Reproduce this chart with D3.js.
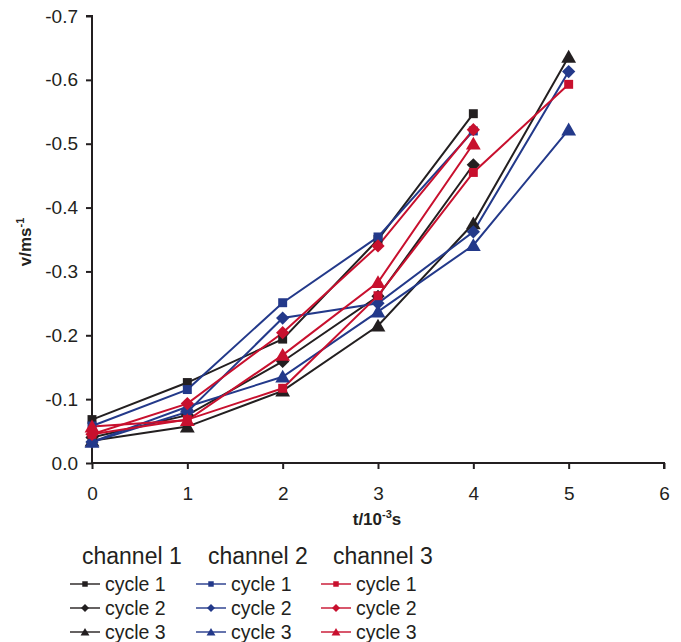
<!DOCTYPE html>
<html><head><meta charset="utf-8">
<script src="https://cdn.jsdelivr.net/npm/d3@7"></script>
<style>body{margin:0;background:#fff;} text{font-family:"Liberation Sans",Arial,sans-serif;}</style>
</head><body>
<svg id="c" width="681" height="642"></svg>
<script>
const xTicks = [0,1,2,3,4,5,6];
const yTicks = [0,-0.1,-0.2,-0.3,-0.4,-0.5,-0.6,-0.7];
const channels = ["channel 1","channel 2","channel 3"];
const cycles = ["cycle 1","cycle 2","cycle 3"];
const channelColors = ["#231f20","#23398a","#c8102e"];
const cycleShapes = ["square","diamond","triangle"];
// values (v in m/s) per time step t = 0,1,2,...
const ch1c1 = [-0.068,-0.126,-0.194,-0.350,-0.547];
const ch1c2 = [-0.040,-0.075,-0.159,-0.261,-0.467];
const ch1c3 = [-0.035,-0.057,-0.113,-0.215,-0.375,-0.636];
const ch2c1 = [-0.058,-0.115,-0.251,-0.354,-0.520];
const ch2c2 = [-0.033,-0.080,-0.227,-0.250,-0.362,-0.613];
const ch2c3 = [-0.033,-0.088,-0.135,-0.237,-0.341,-0.522];
const ch3c1 = [-0.045,-0.068,-0.117,-0.262,-0.455,-0.593];
const ch3c2 = [-0.045,-0.093,-0.204,-0.340,-0.522];
const ch3c3 = [-0.057,-0.067,-0.169,-0.283,-0.500];

const seriesValues = [[ch1c1,ch1c2,ch1c3],[ch2c1,ch2c2,ch2c3],[ch3c1,ch3c2,ch3c3]];

const svg = d3.select("#c");
const L=92,R=664,T=16,B=463;
const x = d3.scaleLinear().domain([0,6]).range([L,R]);
const y = d3.scaleLinear().domain([0,-0.7]).range([B,T]);

const symType = {square:d3.symbolSquare, diamond:d3.symbolSquare, triangle:d3.symbolTriangle};
const symRot = {square:0, diamond:45, triangle:0};
const symDy = {square:0, diamond:0, triangle:1.5};
const symSize = {square:80, diamond:88, triangle:95};
const legSize = {square:30, diamond:32, triangle:34};

// axes
const yAxis = d3.axisLeft(y).tickValues(yTicks).tickSize(6).tickPadding(8)
  .tickFormat(d => d===0 ? "0.0" : d.toFixed(1));
const gy = svg.append("g").attr("transform",`translate(${L},0)`).call(yAxis);
const xAxis = d3.axisBottom(x).tickValues(xTicks).tickSize(6).tickPadding(18).tickFormat(d3.format("d"));
const gx = svg.append("g").attr("transform",`translate(0,${B})`).call(xAxis);
[gy,gx].forEach(g=>{
  g.select(".domain").attr("stroke","#231f20").attr("stroke-width",2);
  g.selectAll(".tick line").attr("stroke","#231f20").attr("stroke-width",2);
  g.selectAll(".tick text").attr("font-size",19).attr("fill","#231f20")
   .style("font-family","'Liberation Sans',Arial,sans-serif");
});
gy.select(".domain").attr("d",`M-6,${T}H0V${B}`);
gx.select(".domain").attr("d",`M${L},0H${R}V6`);

// axis titles
svg.append("text").attr("x",377).attr("y",525).attr("text-anchor","middle")
  .attr("font-size",17).attr("font-weight","bold").attr("fill","#231f20")
  .html('t/10<tspan dy="-7" font-size="11">-3</tspan><tspan dy="7">s</tspan>');
svg.append("text").attr("transform","translate(31,242) rotate(-90)").attr("text-anchor","middle")
  .attr("font-size",17).attr("font-weight","bold").attr("fill","#231f20")
  .html('v/ms<tspan dy="-7" font-size="11">-1</tspan>');

// series
const line = d3.line().x((d,i)=>x(i)).y(d=>y(d));
const plot = svg.append("g");
seriesValues.forEach((chs,ci)=>{
  chs.forEach((vals,k)=>{
    plot.append("path").attr("d",line(vals)).attr("fill","none")
      .attr("stroke",channelColors[ci]).attr("stroke-width",2);
  });
});
seriesValues.forEach((chs,ci)=>{
  chs.forEach((vals,k)=>{
    const shp = cycleShapes[k];
    plot.selectAll(null).data(vals).enter().append("path")
      .attr("transform",(d,i)=>`translate(${x(i)},${y(d)+symDy[shp]}) rotate(${symRot[shp]})`)
      .attr("d",d3.symbol().type(symType[shp]).size(symSize[shp]))
      .attr("fill",channelColors[ci]);
  });
});

// legend
const legX = [70,196,321];
channels.forEach((c,ci)=>{
  svg.append("text").attr("x",legX[ci]+12).attr("y",564).attr("font-size",23)
    .attr("fill","#231f20").text(c);
  cycles.forEach((cy,k)=>{
    const yy = 584 + k*24;
    const shp = cycleShapes[k];
    const g = svg.append("g");
    g.append("line").attr("x1",legX[ci]).attr("x2",legX[ci]+30).attr("y1",yy).attr("y2",yy)
      .attr("stroke",channelColors[ci]).attr("stroke-width",2).attr("stroke-opacity",0.7);
    g.append("path").attr("transform",`translate(${legX[ci]+15},${yy+(shp==="triangle"?1:0)}) rotate(${symRot[shp]})`)
      .attr("d",d3.symbol().type(symType[shp]).size(legSize[shp]))
      .attr("fill",channelColors[ci]);
    g.append("text").attr("x",legX[ci]+35).attr("y",yy+7).attr("font-size",19.5)
      .attr("fill","#231f20").text(cy);
  });
});
</script>
</body></html>
